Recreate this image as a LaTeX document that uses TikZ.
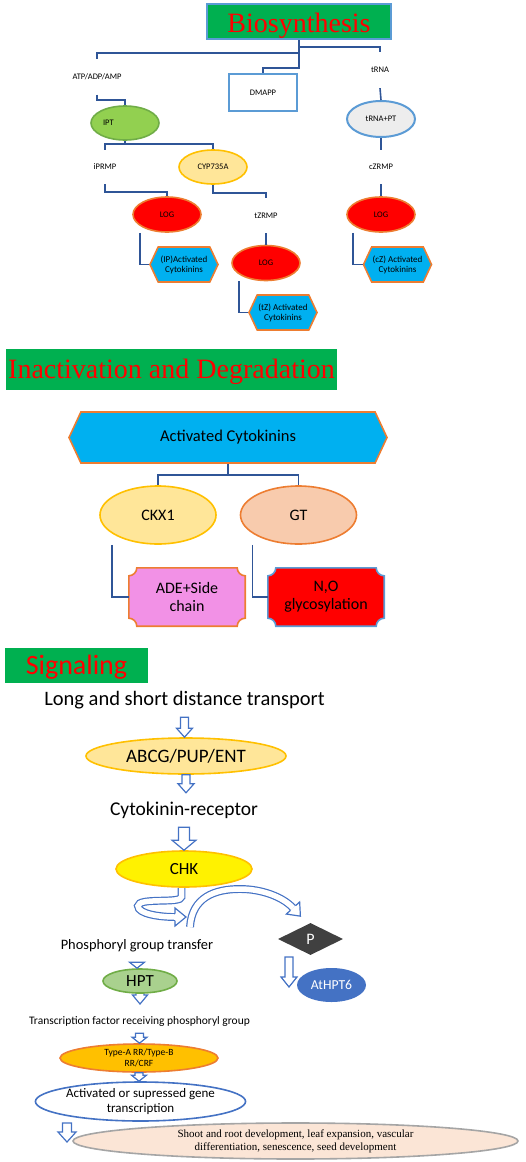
\documentclass[tikz,border=0pt]{standalone}
\usepackage{fontspec}
\setmainfont{Carlito}
\newfontfamily\serifx{Liberation Serif}
\usetikzlibrary{shapes.geometric,shapes.symbols,calc}
\pgfdeclarelayer{bg}
\pgfsetlayers{bg,main}
\definecolor{secgreen}{HTML}{00B050}
\definecolor{lineblue}{HTML}{2F5597}
\definecolor{arrowblue}{HTML}{4472C4}
\definecolor{lightblue}{HTML}{5B9BD5}
\definecolor{iptgreen}{HTML}{92D050}
\definecolor{darkgreen}{HTML}{70AD47}
\definecolor{ltyellow}{HTML}{FFE699}
\definecolor{gold}{HTML}{FFC000}
\definecolor{orangeb}{HTML}{ED7D31}
\definecolor{hexblue}{HTML}{00B0F0}
\definecolor{ltgray}{HTML}{EDEDED}
\definecolor{peach}{HTML}{F8CBAD}
\definecolor{adepink}{HTML}{F291E6}
\definecolor{hptgreen}{HTML}{A9D18E}
\definecolor{pgray}{HTML}{404040}
\definecolor{cream}{HTML}{FBE5D6}
\definecolor{bordergray}{HTML}{A5A5A5}
\newcommand{\fs}[1]{\fontsize{#1}{#1}\selectfont}
\tikzset{
  conn/.style={draw=lineblue, line width=1.6pt},
  sec/.style={fill=secgreen, text=red, inner sep=0pt, text depth=0pt},
  lbl/.style={inner sep=0pt, minimum height=#1, font=\fontsize{8.5}{10}\selectfont},
  ell/.style={ellipse, inner sep=0pt, line width=1.6pt, align=center},
  logst/.style={ell, fill=red, draw=orangeb, minimum width=68pt, minimum height=35pt, font=\fontsize{8.5}{10}\selectfont},
  hexst/.style={shape=signal, signal to=east and west, signal pointer angle=130, fill=hexblue, draw=orangeb, line width=1.6pt, inner sep=0pt, minimum width=68pt, minimum height=35pt, align=center, font=\fontsize{9}{10}\selectfont},
  plaque/.style={line width=1.6pt},
  harrow/.style={draw=arrowblue, fill=white, line width=1.2pt, line join=miter},
  hollow/.style n args={3}{harrow, to path={let \p1=(\tikztostart), \p2=(\tikztotarget) in (\x1-#1,\y1) -- (\x1-#1,\y2+#3) -- (\x1-#2,\y2+#3) -- (\x1,\y2) -- (\x1+#2,\y2+#3) -- (\x1+#1,\y2+#3) -- (\x1+#1,\y1) -- cycle}},
  dblarrow/.style={draw=arrowblue, line width=1.2pt, double=white, double distance=5.5pt},
  txt/.style={inner sep=0pt, align=center}
}
\begin{document}
\begin{tikzpicture}[x=1pt,y=-1pt]
\useasboundingbox (0,0) rectangle (526,1162);
% ---------------- Biosynthesis ----------------
\node[sec, draw=lightblue, line width=2pt, minimum width=184pt, minimum height=35pt, text height=21pt] (bio) at (299,21.5) {\serifx\fs{28}Biosynthesis};
\node[lbl=35pt] (atp) at (97,77) {ATP/ADP/AMP};
\node[draw=lightblue, line width=1.6pt, minimum width=68pt, minimum height=37pt, inner sep=0pt, font=\fontsize{8.5}{10}\selectfont] (dmapp) at (263,92.5) {DMAPP};
\node[lbl=36pt] (trna) at (380,70) {tRNA};
\node[ell, fill=iptgreen, draw=darkgreen, minimum width=68pt, minimum height=34pt, text width=44pt, align=left, font=\fontsize{8.5}{10}\selectfont] (ipt) at (125,123) {IPT};
\node[lbl=34pt] (iprmp) at (105,167) {iPRMP};
\node[ell, fill=ltyellow, draw=gold, minimum width=68pt, minimum height=34pt, font=\fontsize{8.5}{10}\selectfont] (cyp) at (213,167) {CYP735A};
\node[logst] (logA) at (167,214.5) {LOG};
\node[lbl=35pt] (tzrmp) at (266,215.5) {tZRMP};
\node[logst] (logB) at (266,263) {LOG};
\node[ell, fill=ltgray, draw=lightblue, line width=2pt, minimum width=68pt, minimum height=36pt, font=\fontsize{8.5}{10}\selectfont] (trnapt) at (381,119) {tRNA+PT};
\node[lbl=34pt] (czrmp) at (381,167) {cZRMP};
\node[logst] (logC) at (381,214.5) {LOG};
\node[hexst] (hexA) at (184,264.5) {(IP)Activated\\Cytokinins};
\node[hexst] (hexB) at (283,312.5) {(tZ) Activated\\Cytokinins};
\node[hexst] (hexC) at (397.5,264.5) {(cZ) Activated\\Cytokinins};
\coordinate (b1) at ($(bio.south)+(0,28)$);
\coordinate (b2) at ($(bio.south)+(0,13)$);
\coordinate (b3) at ($(bio.south)+(0,7)$);
\draw[conn] (bio.south) -- (b1) -| (dmapp.north);
\draw[conn] (b2) -| (atp.north);
\draw[conn] (b3) -| (trna.north);
\draw[conn] (atp.south) -- ++(0,5) -| (ipt.north);
\coordinate (j1) at ($(ipt.south)+(0,3)$);
\draw[conn] (ipt.south) -- (j1);
\draw[conn] (iprmp.north) |- (j1) -| (cyp.north);
\draw[conn] (iprmp.south) -- ++(0,8) -| (logA.north);
\draw[conn] (cyp.south) -- ++(0,8) -| (tzrmp.north);
\draw[conn] (tzrmp.south) -- (logB.north);
\draw[conn] (trna.south) -- (trnapt.north);
\draw[conn] (trnapt.south) -- (czrmp.north);
\draw[conn] (czrmp.south) -- (logC.north);
\draw[conn] ([xshift=-27pt]logA.south) |- (hexA.west);
\draw[conn] ([xshift=-27pt]logB.south) |- (hexB.west);
\draw[conn] ([xshift=-28pt]logC.south) |- (hexC.west);
% ---------------- Inactivation ----------------
\node[sec, minimum width=331pt, minimum height=41pt, text height=17pt] (inact) at (171.5,369.5) {\serifx\fs{28}Inactivation and Degradation};
\node[hexst, signal pointer angle=130, minimum width=318pt, minimum height=51pt, font=\fontsize{16.5}{18}\selectfont] (act) at (228,437.5) {Activated Cytokinins};
\node[ell, fill=ltyellow, draw=gold, minimum width=116pt, minimum height=58pt, font=\fontsize{16}{18}\selectfont] (ckx) at (158,515) {CKX1};
\node[ell, fill=peach, draw=orangeb, minimum width=116pt, minimum height=58pt, font=\fontsize{16}{18}\selectfont] (gt) at (298.5,515) {GT};
\node[txt, minimum width=116pt, minimum height=58pt, font=\fontsize{16}{18}\selectfont] (ade) at (187,597) {ADE+Side\\chain};
\node[txt, minimum width=116pt, minimum height=58pt, font=\fontsize{16}{18}\selectfont] (no) at (326,597) {N,O\\glycosylation};
\begin{pgfonlayer}{bg}
\foreach \n/\f/\d in {ade/adepink/orangeb, no/red/lightblue}{
  \draw[plaque, fill=\f, draw=\d] ([xshift=-8pt]\n.north east) arc[start angle=180, end angle=270, radius=8pt] -- ([yshift=8pt]\n.south east) arc[start angle=90, end angle=180, radius=8pt] -- ([xshift=8pt]\n.south west) arc[start angle=0, end angle=90, radius=8pt] -- ([yshift=-8pt]\n.north west) arc[start angle=270, end angle=360, radius=8pt] -- cycle;
}
\end{pgfonlayer}
\coordinate (j2) at ($(act.south)+(0,11)$);
\draw[conn] (act.south) -- (j2);
\draw[conn] (ckx.north) |- (j2) -| (gt.north);
\draw[conn] ([xshift=-46pt]ckx.south) |- (ade.west);
\draw[conn] ([xshift=-46pt]gt.south) |- (no.west);
% ---------------- Signaling ----------------
\node[sec, minimum width=143pt, minimum height=35pt, text height=17pt] (sig) at (76.5,665.5) {\fs{28}Signaling};
\node[txt, minimum height=34pt, font=\fontsize{20.5}{22}\selectfont] (trans) at (184.5,700) {Long and short distance transport};
\node[ell, fill=ltyellow, draw=gold, minimum width=200pt, minimum height=36pt, font=\fontsize{19}{20}\selectfont] (abcg) at (186,756) {ABCG/PUP/ENT};
\node[txt, minimum height=34pt, font=\fontsize{19.5}{21}\selectfont] (cyto) at (184,810) {Cytokinin-receptor};
\node[ell, fill=yellow, draw=gold, minimum width=136pt, minimum height=36pt, font=\fontsize{17}{18}\selectfont] (chk) at (184,869) {CHK};
\node[diamond, fill=pgray, text=white, inner sep=0pt, minimum width=65pt, minimum height=32pt, font=\fontsize{16}{18}\selectfont] (P) at (310.5,939) {P};
\node[txt, minimum height=32pt, font=\fontsize{14.4}{16}\selectfont] (phos) at (137,946) {Phosphoryl group transfer};
\node[ell, fill=hptgreen, draw=darkgreen, minimum width=74pt, minimum height=24pt, font=\fontsize{17}{18}\selectfont] (hpt) at (140,981) {HPT};
\node[ell, fill=arrowblue, text=white, minimum width=69pt, minimum height=34pt, font=\fontsize{13.7}{15}\selectfont] (athpt) at (331.5,985) {AtHPT6};
\node[txt, minimum height=24pt, font=\fontsize{11.5}{13}\selectfont] (tf) at (139.5,1021) {Transcription factor receiving phosphoryl group};
\node[ell, fill=gold, draw=orangeb, minimum width=158pt, minimum height=28pt, font=\fontsize{9.5}{11}\selectfont] (typea) at (139,1058) {Type-A RR/Type-B\\RR/CRF};
\node[ell, fill=white, draw=arrowblue, minimum width=205pt, minimum height=39pt, font=\fontsize{13}{15}\selectfont] (gene) at (140.5,1101.5) {Activated or supressed gene\\transcription};
\node[ell, fill=cream, draw=bordergray, minimum width=445pt, minimum height=36pt, font=\serifx\fontsize{11}{13}\selectfont] (dev) at (295.5,1141) {Shoot and root development, leaf expansion, vascular\\differentiation, senescence, seed development};
% straight hollow arrows
\draw[hollow={4pt}{8pt}{9pt}] (trans.south) to (abcg.north);
\draw[hollow={4pt}{8pt}{9pt}] (abcg.south) to (cyto.north);
\draw[hollow={5.5pt}{12pt}{10pt}] (cyto.south) to (chk.north);
\draw[hollow={4pt}{7.5pt}{6pt}] (phos.south) to (hpt.north);
\coordinate (h2) at (140,1004);
\begin{pgfonlayer}{bg}
\draw[hollow={4pt}{7.5pt}{9pt}] (hpt.center) to (h2);
\end{pgfonlayer}
\draw[hollow={4pt}{7.5pt}{6pt}] (tf.south) to (typea.north);
\draw[hollow={4pt}{7.5pt}{6pt}] (typea.south) to (gene.north);
\coordinate (p1) at (289,957);
\coordinate (p2) at (289,987);
\draw[hollow={4pt}{8pt}{10pt}] (p1) to (p2);
\coordinate (g1) at (67,1123);
\coordinate (g2) at (67,1142);
\draw[hollow={4.5pt}{9pt}{10pt}] (g1) to (g2);
% curved arrows
\coordinate (u1) at ([xshift=-2.5pt]chk.south);
\coordinate (u2) at (175,917);
\coordinate (c1) at (190,927);
\coordinate (c2) at (293,908);
\begin{pgfonlayer}{bg}
\draw[dblarrow] (u1) -- ++(0,9) .. controls (181.5,904) and (138,897) .. (138,906) .. controls (138,914) and (160,917) .. (u2);
\end{pgfonlayer}
\draw[harrow, shift={(u2)}] (0pt,3.5pt) -- (0pt,9pt) -- (11pt,0pt) -- (0pt,-9pt) -- (0pt,-3.5pt);
\draw[dblarrow] (c1) .. controls (192,897) and (215,889) .. (240,889) .. controls (262,889) and (283,897) .. (c2);
\draw[harrow, shift={(c2)}, rotate=-47.7] (0pt,3.5pt) -- (0pt,9pt) -- (11pt,0pt) -- (0pt,-9pt) -- (0pt,-3.5pt);
\end{tikzpicture}
\end{document}
